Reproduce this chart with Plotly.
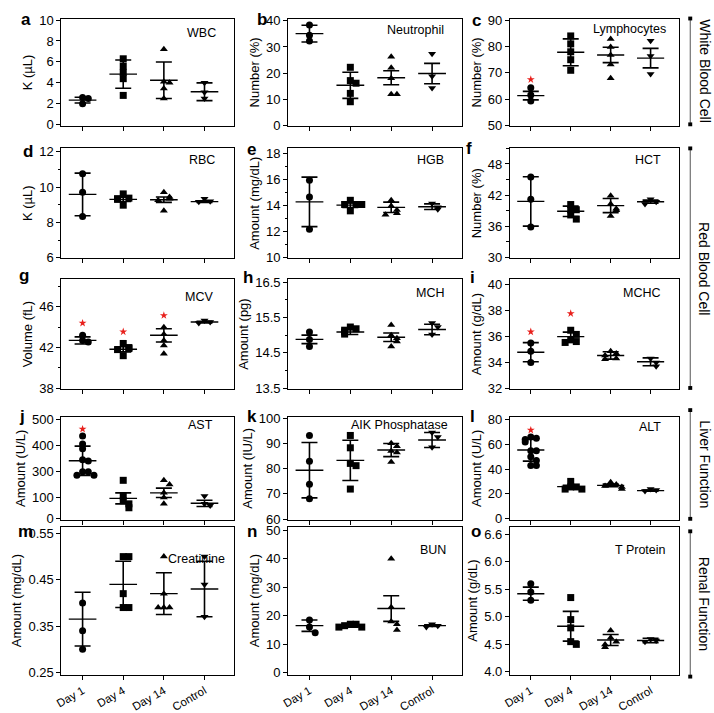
import plotly.graph_objects as go

W, H = 714, 713

CATEGORIES = ["Day 1", "Day 4", "Day 14", "Control"]
SYMBOLS = ["circle", "square", "triangle-up", "triangle-down"]

# ---- values (per group: Day 1, Day 4, Day 14, Control) ----
WBC_PTS = [[2.6, 2.5, 2.0], [6.3, 5.6, 5.0, 4.4, 2.8], [7.2, 4.1, 4.0, 3.45, 2.5], [4.0, 3.1, 2.5]]
WBC_MEAN = [2.35, 4.83, 4.25, 3.15]
WBC_ERR = [0.27, 1.35, 1.75, 0.85]
WBC_STAR = [None, None, None, None]

NEU_PTS = [[38.4, 34.5, 32.3], [22.2, 17.1, 16.1, 12.2, 9.0], [26.2, 22.0, 18.0, 11.9, 11.9], [27.4, 18.8, 14.3]]
NEU_MEAN = [35.1, 15.3, 18.2, 19.8]
NEU_ERR = [3.2, 5.0, 2.7, 3.9]
NEU_STAR = [41.6, None, None, None]

LYM_PTS = [[64.4, 61.6, 59.4], [84.0, 81.0, 78.0, 75.0, 71.0], [82.8, 79.8, 76.8, 73.2, 68.0], [82.2, 76.4, 69.6]]
LYM_MEAN = [61.4, 77.8, 76.8, 75.6]
LYM_ERR = [1.6, 5.1, 2.9, 3.7]
LYM_STAR = [67.5, None, None, None]

RBC_PTS = [[10.76, 9.71, 8.34], [9.62, 9.38, 9.35, 9.31, 8.98], [9.71, 9.44, 9.35, 9.26, 8.67], [9.35, 9.2, 9.17]]
RBC_MEAN = [9.59, 9.31, 9.29, 9.18]
RBC_ERR = [1.21, 0.12, 0.15, 0.05]
RBC_STAR = [None, None, None, None]

HGB_PTS = [[15.95, 14.66, 12.18], [14.41, 14.09, 14.09, 14.09, 13.6], [14.41, 13.97, 13.67, 13.42, 13.3], [14.16, 13.87, 13.72]]
HGB_MEAN = [14.29, 14.04, 13.87, 13.92]
HGB_ERR = [1.9, 0.18, 0.4, 0.22]
HGB_STAR = [None, None, None, None]

HCT_PTS = [[45.5, 41.2, 35.9], [40.2, 39.2, 39.2, 38.2, 37.4], [41.9, 40.3, 39.4, 39.1, 38.0], [41.2, 40.75, 40.3]]
HCT_MEAN = [40.8, 38.9, 40.0, 40.75]
HCT_ERR = [4.75, 1.0, 1.35, 0.3]
HCT_STAR = [None, None, None, None]

MCV_PTS = [[43.2, 42.7, 42.55], [42.4, 42.0, 41.9, 41.8, 41.2], [44.0, 43.3, 42.7, 42.2, 41.4], [44.65, 44.5, 44.4]]
MCV_MEAN = [42.7, 41.83, 43.2, 44.5]
MCV_ERR = [0.35, 0.25, 0.65, 0.08]
MCV_STAR = [44.4, 43.55, 45.15, None]

MCH_PTS = [[15.09, 14.88, 14.68], [15.23, 15.18, 15.14, 15.09, 15.03], [15.29, 15.0, 14.91, 14.82, 14.68], [15.34, 15.23, 15.02]]
MCH_MEAN = [14.88, 15.09, 14.94, 15.16]
MCH_ERR = [0.12, 0.07, 0.12, 0.15]
MCH_STAR = [None, None, None, None]

MCHC_PTS = [[35.48, 34.86, 33.99], [36.47, 36.15, 35.73, 35.6, 35.53], [34.86, 34.68, 34.53, 34.29, 34.24], [34.29, 33.99, 33.69]]
MCHC_MEAN = [34.78, 35.98, 34.53, 34.04]
MCHC_ERR = [0.74, 0.35, 0.28, 0.3]
MCHC_STAR = [36.35, 37.76, None, None]

# AST: the picture's axis is labelled 500/400/300/100/0 on unevenly spaced ticks;
# values below are on the drawn (linear) scale of that axis
AST_PTS = [[436, 405, 387, 345, 340, 299, 299, 285, 285], [266, 206, 188, 176, 161], [266, 250, 218, 200, 176], [206, 176, 170]]
AST_MEAN = [341, 197, 218, 178]
AST_ERR = [56, 21, 18, 12]
AST_STAR = [462, None, None, None]
AST_TICKVALS = [121, 202, 300, 400, 500]
AST_TICKTEXT = ["0", "100", "300", "400", "500"]

ALP_PTS = [[93.2, 83.0, 73.8, 68.1], [93.2, 88.3, 82.1, 81.2, 71.9], [90.1, 88.9, 87.0, 86.4, 82.7], [94.4, 92.6, 88.5]]
ALP_MEAN = [79.4, 83.3, 87.4, 91.4]
ALP_ERR = [11.0, 8.0, 2.6, 3.0]
ALP_STAR = [None, None, None, None]

ALT_PTS = [[66, 65, 64, 62, 55, 55, 50, 47, 43, 43], [30, 25.5, 25.5, 23.75, 23.75], [29.25, 27.5, 26.25, 25.5, 23.75], [23.75, 23, 22.25]]
ALT_MEAN = [55.5, 25.75, 26.75, 22.5]
ALT_ERR = [9.0, 1.0, 1.0, 0.5]
ALT_STAR = [71.7, None, None, None]

CRE_PTS = [[0.40, 0.34, 0.30], [0.50, 0.50, 0.42, 0.39, 0.39], [0.50, 0.42, 0.39, 0.39, 0.39], [0.50, 0.44, 0.37]]
CRE_MEAN = [0.365, 0.44, 0.42, 0.43]
CRE_ERR = [0.058, 0.05, 0.045, 0.06]
CRE_STAR = [None, None, None, None]

BUN_PTS = [[18.5, 16, 14], [17, 17, 16.5, 16, 16], [40, 23, 18, 17, 15], [17, 16.5, 16]]
BUN_MEAN = [16.5, 16.5, 22.5, 16.5]
BUN_ERR = [2.0, 0.5, 4.5, 0.3]
BUN_STAR = [None, None, None, None]

TP_PTS = [[5.6, 5.45, 5.3], [5.35, 4.95, 4.8, 4.55, 4.5], [4.75, 4.62, 4.55, 4.5, 4.45], [4.6, 4.57, 4.55]]
TP_MEAN = [5.42, 4.83, 4.58, 4.57]
TP_ERR = [0.12, 0.27, 0.1, 0.04]
TP_STAR = [None, None, None, None]
TP_TICKVALS = [4.0, 4.5, 5.0, 5.5, 6.0, 6.5]
TP_TICKTEXT = ["4.0", "4.5", "5.0", "5.5", "6.0", "6.6"]

GROUP_LABELS = ["White Blood Cell", "Red Blood Cell", "Liver Function", "Renal Function"]

# ---- panel layout (pixels) ----
COLS_PX = [(55, 229), (284, 459), (508, 679)]
ROWS_PX = [(13, 125), (148, 262), (284, 398), (427, 534), (541, 695)]

PANELS = [
    dict(letter="a", title="WBC", ytitle="K (µL)", pts=WBC_PTS, mean=WBC_MEAN, err=WBC_ERR, star=WBC_STAR,
         yrange=[-0.15, 10.15], tickvals=[0, 2, 4, 6, 8, 10], lpos=(19, 14), tpos=(16, 15)),
    dict(letter="b", title="Neutrophil", ytitle="Number (%)", pts=NEU_PTS, mean=NEU_MEAN, err=NEU_ERR, star=NEU_STAR,
         yrange=[-0.4, 40.9], tickvals=[0, 10, 20, 30, 40], lpos=(258, 14), tpos=(16, 12)),
    dict(letter="c", title="Lymphocytes", ytitle="Number (%)", pts=LYM_PTS, mean=LYM_MEAN, err=LYM_ERR, star=LYM_STAR,
         yrange=[49.8, 90.6], tickvals=[50, 60, 70, 80, 90], lpos=(474, 15), tpos=(11, 11)),
    dict(letter="d", title="RBC", ytitle="K (µL)", pts=RBC_PTS, mean=RBC_MEAN, err=RBC_ERR, star=RBC_STAR,
         yrange=[5.98, 12.2], tickvals=[6, 8, 10, 12], minor=1, lpos=(21, 151), tpos=(17, 12)),
    dict(letter="e", title="HGB", ytitle="Amount (mg/dL)", pts=HGB_PTS, mean=HGB_MEAN, err=HGB_ERR, star=HGB_STAR,
         yrange=[9.97, 18.4], tickvals=[10, 12, 14, 16, 18], minor=1, lpos=(247, 149), tpos=(16, 12)),
    dict(letter="f", title="HCT", ytitle="Number (%)", pts=HCT_PTS, mean=HCT_MEAN, err=HCT_ERR, star=HCT_STAR,
         yrange=[29.9, 51.0], tickvals=[30, 36, 42, 48], minor=3, lpos=(467, 148), tpos=(17, 12)),
    dict(letter="g", title="MCV", ytitle="Volume (fL)", pts=MCV_PTS, mean=MCV_MEAN, err=MCV_ERR, star=MCV_STAR,
         yrange=[37.94, 48.7], tickvals=[38, 42, 46], minor=2, lpos=(17, 280), tpos=(19, 18)),
    dict(letter="h", title="MCH", ytitle="Amount (pg)", pts=MCH_PTS, mean=MCH_MEAN, err=MCH_ERR, star=MCH_STAR,
         yrange=[13.48, 16.58], tickvals=[13.5, 14.5, 15.5, 16.5], minor=0.5, fmt=".1f", lpos=(243, 282), tpos=(16, 14)),
    dict(letter="i", title="MCHC", ytitle="Amount (g/dL)", pts=MCHC_PTS, mean=MCHC_MEAN, err=MCHC_ERR, star=MCHC_STAR,
         yrange=[31.95, 40.4], tickvals=[32, 34, 36, 38, 40], lpos=(470, 282), tpos=(17, 14)),
    dict(letter="j", title="AST", ytitle="Amount (U/L)", pts=AST_PTS, mean=AST_MEAN, err=AST_ERR, star=AST_STAR,
         yrange=[115, 509], tickvals=AST_TICKVALS, ticktext=AST_TICKTEXT, lpos=(15, 427), tpos=(19, 9)),
    dict(letter="k", title="AIK Phosphatase", ytitle="Amount (IU/L)", pts=ALP_PTS, mean=ALP_MEAN, err=ALP_ERR, star=ALP_STAR,
         yrange=[59.7, 100.6], tickvals=[60, 70, 80, 90, 100], lpos=(247, 427), tpos=(12, 9)),
    dict(letter="l", title="ALT", ytitle="Amount (U/L)", pts=ALT_PTS, mean=ALT_MEAN, err=ALT_ERR, star=ALT_STAR,
         yrange=[-1.2, 82.5], tickvals=[0, 20, 40, 60, 80], lpos=(470, 427), tpos=(17, 11)),
    dict(letter="m", title="Creatinine", ytitle="Amount (mg/dL)", pts=CRE_PTS, mean=CRE_MEAN, err=CRE_ERR, star=CRE_STAR,
         yrange=[0.245, 0.565], tickvals=[0.25, 0.35, 0.45, 0.55], fmt=".2f", lpos=(19, 546), tpos=(7, 34)),
    dict(letter="n", title="BUN", ytitle="Amount (mg/dL)", pts=BUN_PTS, mean=BUN_MEAN, err=BUN_ERR, star=BUN_STAR,
         yrange=[-0.7, 51.3], tickvals=[0, 10, 20, 30, 40, 50], lpos=(247, 546), tpos=(14, 24)),
    dict(letter="o", title="T Protein", ytitle="Amount (g/dL)", pts=TP_PTS, mean=TP_MEAN, err=TP_ERR, star=TP_STAR,
         yrange=[3.95, 6.64], tickvals=TP_TICKVALS, ticktext=TP_TICKTEXT, lpos=(474, 546), tpos=(11, 24)),
]

FONT = "Liberation Sans, Arial, Helvetica, sans-serif"


def swarm(vals, span):
    """Spread points that sit close together sideways (simple beeswarm)."""
    offs, placed = [], []
    for v in vals:
        k = sum(1 for p in placed if abs(p - v) < 0.045 * span)
        off = 0 if k == 0 else ((k + 1) // 2) * 0.14 * (1 if k % 2 else -1)
        placed.append(v)
        offs.append(off)
    return offs


fig = go.Figure()
annotations = []
layout_axes = {}

for idx, p in enumerate(PANELS):
    row, col = divmod(idx, 3)
    n = idx + 1
    xa = "x" if n == 1 else f"x{n}"
    ya = "y" if n == 1 else f"y{n}"
    x0, x1 = COLS_PX[col]
    y0, y1 = ROWS_PX[row]
    span = p["yrange"][1] - p["yrange"][0]

    for g in range(4):
        vals = p["pts"][g]
        offs = swarm(vals, span)
        fig.add_trace(go.Scatter(
            x=[g + o for o in offs], y=vals, mode="markers",
            marker=dict(symbol=SYMBOLS[g], size=7, color="black", line=dict(width=0)),
            xaxis=xa, yaxis=ya, showlegend=False, cliponaxis=False, hoverinfo="y"
        ))
        m = p["mean"][g]
        fig.add_trace(go.Scatter(
            x=[g - 0.34, g + 0.34], y=[m, m], mode="lines",
            line=dict(color="black", width=1.4),
            xaxis=xa, yaxis=ya, showlegend=False, hoverinfo="skip"
        ))
        fig.add_trace(go.Scatter(
            x=[g], y=[m], mode="markers", marker=dict(size=1, opacity=0),
            error_y=dict(type="data", array=[p["err"][g]], color="black", thickness=1.6, width=8),
            xaxis=xa, yaxis=ya, showlegend=False, hoverinfo="skip"
        ))
        if p["star"][g] is not None:
            fig.add_trace(go.Scatter(
                x=[g], y=[p["star"][g]], mode="markers",
                marker=dict(symbol="star", size=6, color="#e8201c"),
                xaxis=xa, yaxis=ya, showlegend=False, cliponaxis=False, hoverinfo="skip"
            ))

    axis_line = dict(showline=True, mirror=True, linecolor="black", linewidth=1.2,
                     showgrid=False, zeroline=False, ticks="outside", ticklen=4,
                     tickwidth=1, tickcolor="black")
    layout_axes["xaxis" if n == 1 else f"xaxis{n}"] = dict(
        domain=[x0 / W, x1 / W], range=[-0.52, 3.72], anchor=ya,
        tickvals=[0, 1, 2, 3], ticktext=CATEGORIES, showticklabels=(row == 4),
        tickangle=-30, tickfont=dict(size=11.5, color="black"), **axis_line
    )
    yax = dict(
        domain=[1 - y1 / H, 1 - y0 / H], range=p["yrange"], anchor=xa,
        tickvals=p["tickvals"], tickfont=dict(size=13, color="black"),
        title=dict(text=p["ytitle"], font=dict(size=13, color="black"), standoff=3),
        **axis_line
    )
    if "ticktext" in p:
        yax["ticktext"] = p["ticktext"]
    if "fmt" in p:
        yax["tickformat"] = p["fmt"]
    if "minor" in p:
        yax["minor"] = dict(ticks="outside", ticklen=2.5, dtick=p["minor"],
                            tick0=p["tickvals"][0], tickcolor="black", showgrid=False)
    layout_axes["yaxis" if n == 1 else f"yaxis{n}"] = yax

    # panel title (top right inside the box)
    dx, dy = p["tpos"]
    annotations.append(dict(
        text=p["title"], xref="paper", yref="paper",
        x=(x1 - dx) / W, y=1 - (y0 + dy) / H, xanchor="right", yanchor="middle",
        showarrow=False, font=dict(size=12.5, color="black")
    ))
    # panel letter
    lx, ly = p["lpos"]
    annotations.append(dict(
        text=f"<b>{p['letter']}</b>", xref="paper", yref="paper",
        x=lx / W, y=1 - ly / H, xanchor="center", yanchor="middle",
        showarrow=False, font=dict(size=17, color="black")
    ))

# group brackets on the right
BRACKETS_PX = [(13, 123), (148, 397), (420, 533), (546, 697)]
shapes = []
bx = 690
for label, (t, b) in zip(GROUP_LABELS, BRACKETS_PX):
    shapes.append(dict(type="line", xref="paper", yref="paper",
                       x0=bx / W, x1=bx / W, y0=1 - t / H, y1=1 - b / H,
                       line=dict(color="#555555", width=1)))
    for yy in (t, b):
        shapes.append(dict(type="rect", xref="paper", yref="paper",
                           x0=(bx - 2) / W, x1=(bx + 2) / W, y0=1 - (yy - 2) / H, y1=1 - (yy + 2) / H,
                           line=dict(width=0), fillcolor="black"))
    annotations.append(dict(
        text=label, xref="paper", yref="paper", x=704 / W, y=1 - ((t + b) / 2) / H,
        xanchor="center", yanchor="middle", textangle=90, showarrow=False,
        font=dict(size=14, color="black")
    ))

fig.update_layout(
    width=W, height=H,
    margin=dict(l=0, r=0, t=0, b=0),
    paper_bgcolor="white", plot_bgcolor="white",
    font=dict(family=FONT, color="black"),
    showlegend=False,
    annotations=annotations,
    shapes=shapes,
    **layout_axes
)

# page has a default 8px body margin; drop it so the figure fills the window
fig.write_html("out.html", config={"displayModeBar": False},
               post_script="document.body.style.margin='0';document.body.style.overflow='hidden';")
